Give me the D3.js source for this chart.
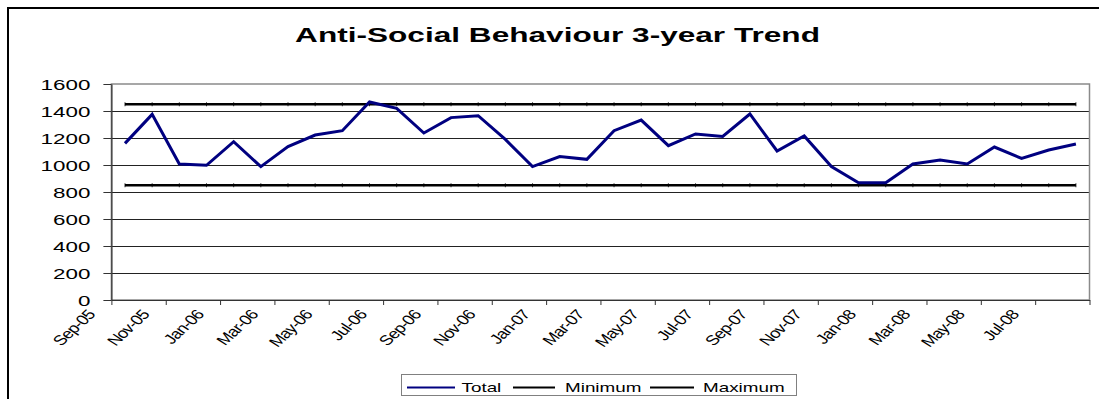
<!DOCTYPE html>
<html>
<head>
<meta charset="utf-8">
<script src="https://cdn.jsdelivr.net/npm/d3@7"></script>
<style>
  html, body { margin: 0; padding: 0; background: #fff; }
  svg { display: block; }
  text { font-family: "Liberation Sans", Arial, sans-serif; }
</style>
</head>
<body>
<svg id="chart" width="1099" height="399"></svg>
<script>
// Monthly categories, Sep-05 .. Aug-08
const months = [
  "Sep-05","Oct-05","Nov-05","Dec-05","Jan-06","Feb-06","Mar-06","Apr-06","May-06","Jun-06","Jul-06","Aug-06",
  "Sep-06","Oct-06","Nov-06","Dec-06","Jan-07","Feb-07","Mar-07","Apr-07","May-07","Jun-07","Jul-07","Aug-07",
  "Sep-07","Oct-07","Nov-07","Dec-07","Jan-08","Feb-08","Mar-08","Apr-08","May-08","Jun-08","Jul-08","Aug-08"
];

// Total incidents per month
const total = [
  1160, 1375, 1007, 998, 1173, 988, 1136, 1222, 1254, 1467, 1420, 1237,
  1351, 1365, 1190, 988, 1062, 1042, 1254, 1333, 1143, 1230, 1212, 1378,
  1104, 1215, 988, 869, 869, 1007, 1037, 1007, 1133, 1049, 1111, 1156
];

// Control limits
const minimum = [
  850, 850, 850, 850, 850, 850, 850, 850, 850, 850, 850, 850,
  850, 850, 850, 850, 850, 850, 850, 850, 850, 850, 850, 850,
  850, 850, 850, 850, 850, 850, 850, 850, 850, 850, 850, 850
];
const maximum = [
  1450, 1450, 1450, 1450, 1450, 1450, 1450, 1450, 1450, 1450, 1450, 1450,
  1450, 1450, 1450, 1450, 1450, 1450, 1450, 1450, 1450, 1450, 1450, 1450,
  1450, 1450, 1450, 1450, 1450, 1450, 1450, 1450, 1450, 1450, 1450, 1450
];

// Axis labels
const yTicks = [0, 200, 400, 600, 800, 1000, 1200, 1400, 1600];
const xTickLabels = [
  "Sep-05","Nov-05","Jan-06","Mar-06","May-06","Jul-06","Sep-06","Nov-06","Jan-07",
  "Mar-07","May-07","Jul-07","Sep-07","Nov-07","Jan-08","Mar-08","May-08","Jul-08"
];

const title = "Anti-Social Behaviour 3-year Trend";
const seriesNames = ["Total", "Minimum", "Maximum"];
const seriesColors = ["#000080", "#000000", "#000000"];

// Text is drawn wide, as in the exported sheet
const SX = 1.6;

const svg = d3.select("#chart");

// Chart area frame
svg.append("rect")
  .attr("x", 8).attr("y", 8).attr("width", 1200).attr("height", 500)
  .attr("fill", "#fff").attr("stroke", "#000").attr("stroke-width", 2);

const plot = { left: 111.4, right: 1089.5, top: 84, bottom: 300 };

const x = d3.scaleBand().domain(months).range([plot.left, plot.right]).padding(0);
const xi = d3.scaleLinear().domain([0, months.length]).range([plot.left, plot.right]);
const y = d3.scaleLinear().domain([0, 1600]).range([plot.bottom, plot.top]);
const cx = m => x(m) + x.bandwidth() / 2;

// Title
svg.append("text")
  .attr("transform", `translate(557.5,42) scale(1.62,1)`)
  .attr("text-anchor", "middle")
  .attr("font-size", 19.5).attr("font-weight", "bold")
  .text(title);

// Gridlines
svg.append("g")
  .selectAll("line")
  .data(yTicks.filter(v => v > 0 && v < 1600))
  .join("line")
  .attr("x1", plot.left).attr("x2", plot.right)
  .attr("y1", d => Math.round(y(d)) + 0.5).attr("y2", d => Math.round(y(d)) + 0.5)
  .attr("stroke", "#222").attr("stroke-width", 1);

// Plot area border
svg.append("rect")
  .attr("x", plot.left).attr("y", plot.top)
  .attr("width", plot.right - plot.left).attr("height", plot.bottom - plot.top)
  .attr("fill", "none").attr("stroke", "#8a8a8a").attr("stroke-width", 1.5);

// Y axis
const yAxis = svg.append("g")
  .attr("transform", `translate(${plot.left},0)`)
  .call(d3.axisLeft(y).tickValues(yTicks).tickFormat(d3.format("d")).tickSize(8).tickSizeOuter(0));
yAxis.select(".domain").attr("stroke", "#333").attr("stroke-width", 1.2);
yAxis.selectAll(".tick line").attr("stroke", "#333");
yAxis.selectAll(".tick text")
  .attr("x", null).attr("dy", "0.36em")
  .attr("transform", `translate(-21,0) scale(${SX},1)`)
  .attr("font-size", 14).attr("fill", "#000")
  .attr("font-family", "Liberation Sans, Arial, sans-serif");

// X axis: ticks between every second category
const xAxis = svg.append("g")
  .attr("transform", `translate(0,${plot.bottom})`)
  .call(d3.axisBottom(xi)
    .tickValues(d3.range(0, months.length + 1, 2))
    .tickSize(5).tickSizeOuter(0).tickFormat(""));
xAxis.select(".domain").attr("stroke", "#333").attr("stroke-width", 1.2);
xAxis.selectAll(".tick line").attr("stroke", "#333");

// Rotated month labels
svg.append("g")
  .selectAll("text")
  .data(xTickLabels)
  .join("text")
  .attr("transform", d => `translate(${cx(d) - 29},315) scale(1.3,1) rotate(-50)`)
  .attr("text-anchor", "end")
  .attr("font-size", 14)
  .attr("letter-spacing", -0.6)
  .text(d => d);

// Series lines
const line = d3.line().x((d, i) => cx(months[i])).y(d => y(d));

const limitSeries = [maximum, minimum];
limitSeries.forEach(vals => {
  svg.append("path")
    .datum(vals)
    .attr("d", line)
    .attr("fill", "none").attr("stroke", "#000").attr("stroke-width", 2.5);
  // small dash markers on the limit lines
  svg.append("g")
    .selectAll("line")
    .data(vals)
    .join("line")
    .attr("x1", (d, i) => cx(months[i])).attr("x2", (d, i) => cx(months[i]))
    .attr("y1", d => y(d) - 2).attr("y2", d => y(d) + 2)
    .attr("stroke", "#000").attr("stroke-width", 0.8);
});

svg.append("path")
  .datum(total)
  .attr("d", line)
  .attr("fill", "none").attr("stroke", "#000080").attr("stroke-width", 3)
  .attr("stroke-linejoin", "miter");

// Legend
const legend = svg.append("g");
legend.append("rect")
  .attr("x", 401.5).attr("y", 374.5).attr("width", 395).attr("height", 21)
  .attr("fill", "#fff").attr("stroke", "#808080").attr("stroke-width", 1);

const legendItems = [
  { lx1: 407, lx2: 455, tx: 461.5 },
  { lx1: 513, lx2: 555, tx: 565 },
  { lx1: 650, lx2: 694, tx: 703 }
];
legendItems.forEach((it, i) => {
  legend.append("line")
    .attr("x1", it.lx1).attr("x2", it.lx2).attr("y1", 387.5).attr("y2", 387.5)
    .attr("stroke", seriesColors[i]).attr("stroke-width", 2);
  legend.append("text")
    .attr("transform", `translate(${it.tx},392) scale(1.45,1)`)
    .attr("font-size", 13)
    .text(seriesNames[i]);
});
</script>
</body>
</html>
